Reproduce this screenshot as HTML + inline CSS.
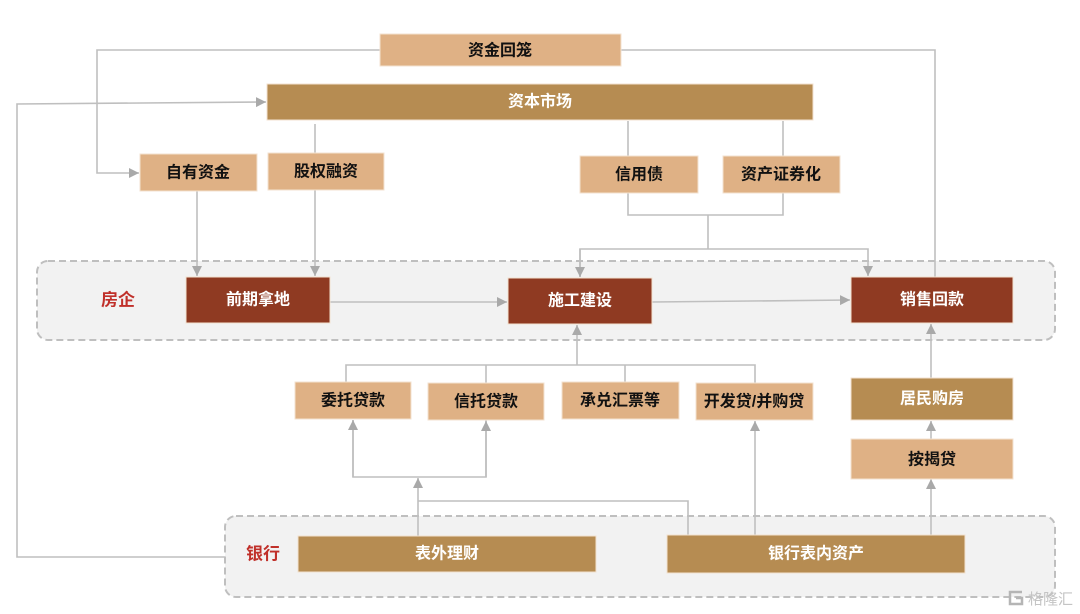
<!DOCTYPE html>
<html><head><meta charset="utf-8">
<style>
html,body{margin:0;padding:0;background:#fff;}
svg{display:block;}
text{font-family:"Liberation Sans","Noto Sans CJK SC",sans-serif;font-weight:bold;font-size:16px;}
</style></head>
<body>
<svg width="1080" height="614" viewBox="0 0 1080 614" xmlns="http://www.w3.org/2000/svg">
<defs>
<marker id="ar" markerUnits="userSpaceOnUse" markerWidth="11" markerHeight="11" refX="10" refY="5" orient="auto">
<path d="M0,0 L10,5 L0,10 Z" fill="#a9a9a9"/>
</marker>
</defs>

<!-- containers -->
<rect x="37" y="261" width="1018" height="79" rx="11" fill="#f2f2f2" stroke="#bfbfbf" stroke-width="2" stroke-dasharray="7,4"/>
<rect x="225" y="516" width="830" height="81" rx="11" fill="#f2f2f2" stroke="#bfbfbf" stroke-width="2" stroke-dasharray="7,4"/>

<g fill="none" stroke="#bfbfbf" stroke-width="1.6">
<!-- 资金回笼 loops -->
<polyline points="380,50 97,50 97,173 139,173" marker-end="url(#ar)"/>
<polyline points="621,50 935,50 935,277"/>
<!-- feedback from bank to capital market -->
<polyline points="225,557 17,557 17,104 266,102" marker-end="url(#ar)"/>
<!-- capital market to 股权融资 -->
<line x1="315" y1="124" x2="315" y2="153"/>
<line x1="315" y1="190" x2="315" y2="276" marker-end="url(#ar)"/>
<line x1="197" y1="191" x2="197" y2="276" marker-end="url(#ar)"/>
<!-- capital market to bonds -->
<line x1="628" y1="121" x2="628" y2="156"/>
<line x1="783" y1="121" x2="783" y2="156"/>
<polyline points="628,193 628,215 783,215 783,193"/>
<line x1="708" y1="215" x2="708" y2="249"/>
<polyline points="580,277 580,249 868,249 868,276" marker-end="url(#ar)"/>
<line x1="580" y1="249" x2="580" y2="277" marker-end="url(#ar)"/>
<!-- flow arrows -->
<line x1="330" y1="302" x2="507" y2="302" marker-end="url(#ar)"/>
<line x1="652" y1="302" x2="850" y2="300" marker-end="url(#ar)"/>
<!-- loans to 施工建设 -->
<polyline points="346,382 346,365 755,365 755,383"/>
<line x1="486" y1="365" x2="486" y2="383"/>
<line x1="625" y1="365" x2="625" y2="382"/>
<line x1="577" y1="365" x2="577" y2="325" marker-end="url(#ar)"/>
<!-- 表外理财 -->
<line x1="418" y1="536" x2="418" y2="478" marker-end="url(#ar)"/>
<polyline points="353,420 353,477 486,477 486,420"/>
<line x1="353" y1="477" x2="353" y2="420" marker-end="url(#ar)"/>
<line x1="486" y1="477" x2="486" y2="421" marker-end="url(#ar)"/>
<polyline points="418,501 688,501 688,535"/>
<!-- 表内 -->
<line x1="755" y1="535" x2="755" y2="421" marker-end="url(#ar)"/>
<line x1="931" y1="535" x2="931" y2="479" marker-end="url(#ar)"/>
<line x1="931" y1="439" x2="931" y2="421" marker-end="url(#ar)"/>
<line x1="931" y1="378" x2="931" y2="324" marker-end="url(#ar)"/>
</g>

<!-- boxes -->
<g stroke="#f3e2d0" stroke-width="1">
<rect x="380" y="34" width="241" height="32" fill="#dfb185"/>
<rect x="267" y="84" width="546" height="36" fill="#b68c52"/>
<rect x="140" y="154" width="117" height="37" fill="#dfb185"/>
<rect x="268" y="153" width="116" height="37" fill="#dfb185"/>
<rect x="580" y="156" width="118" height="37" fill="#dfb185"/>
<rect x="723" y="156" width="117" height="37" fill="#dfb185"/>
<rect x="186" y="277" width="144" height="46" fill="#8f3a22"/>
<rect x="508" y="278" width="144" height="46" fill="#8f3a22"/>
<rect x="851" y="277" width="162" height="46" fill="#8f3a22"/>
<rect x="295" y="382" width="116" height="37" fill="#dfb185"/>
<rect x="428" y="383" width="116" height="37" fill="#dfb185"/>
<rect x="562" y="382" width="117" height="37" fill="#dfb185"/>
<rect x="696" y="383" width="117" height="37" fill="#dfb185"/>
<rect x="851" y="378" width="162" height="42" fill="#b68c52"/>
<rect x="851" y="439" width="162" height="40" fill="#dfb185"/>
<rect x="298" y="536" width="298" height="36" fill="#b68c52"/>
<rect x="667" y="535" width="298" height="38" fill="#b68c52"/>
</g>

<!-- labels -->
<g text-anchor="middle" dominant-baseline="central">
<text x="500" y="51" fill="#111111">资金回笼</text>
<text x="540" y="102" fill="#ffffff">资本市场</text>
<text x="198" y="173" fill="#111111">自有资金</text>
<text x="326" y="172" fill="#111111">股权融资</text>
<text x="639" y="175" fill="#111111">信用债</text>
<text x="781" y="175" fill="#111111">资产证券化</text>
<text x="258" y="300" fill="#ffffff">前期拿地</text>
<text x="580" y="301" fill="#ffffff">施工建设</text>
<text x="932" y="300" fill="#ffffff">销售回款</text>
<text x="353" y="401" fill="#111111">委托贷款</text>
<text x="486" y="402" fill="#111111">信托贷款</text>
<text x="620" y="401" fill="#111111">承兑汇票等</text>
<text x="754" y="402" fill="#111111">开发贷/并购贷</text>
<text x="932" y="399" fill="#ffffff">居民购房</text>
<text x="932" y="460" fill="#111111">按揭贷</text>
<text x="447" y="554" fill="#ffffff">表外理财</text>
<text x="816" y="554" fill="#ffffff">银行表内资产</text>
<text x="118" y="300" fill="#c0302a" style="font-size:17px">房企</text>
<text x="263" y="554" fill="#c0302a" style="font-size:17px">银行</text>
</g>

<!-- watermark -->
<g>
<path d="M1022,592 L1010,592 L1010,604 L1022,604 L1022,598 L1016,598" fill="none" stroke="#b5b5b5" stroke-width="2.5"/>
<text x="1028" y="604" fill="#c4c4c4" style="font-size:15px;font-weight:normal">格隆汇</text>
</g>
</svg>
</body></html>
